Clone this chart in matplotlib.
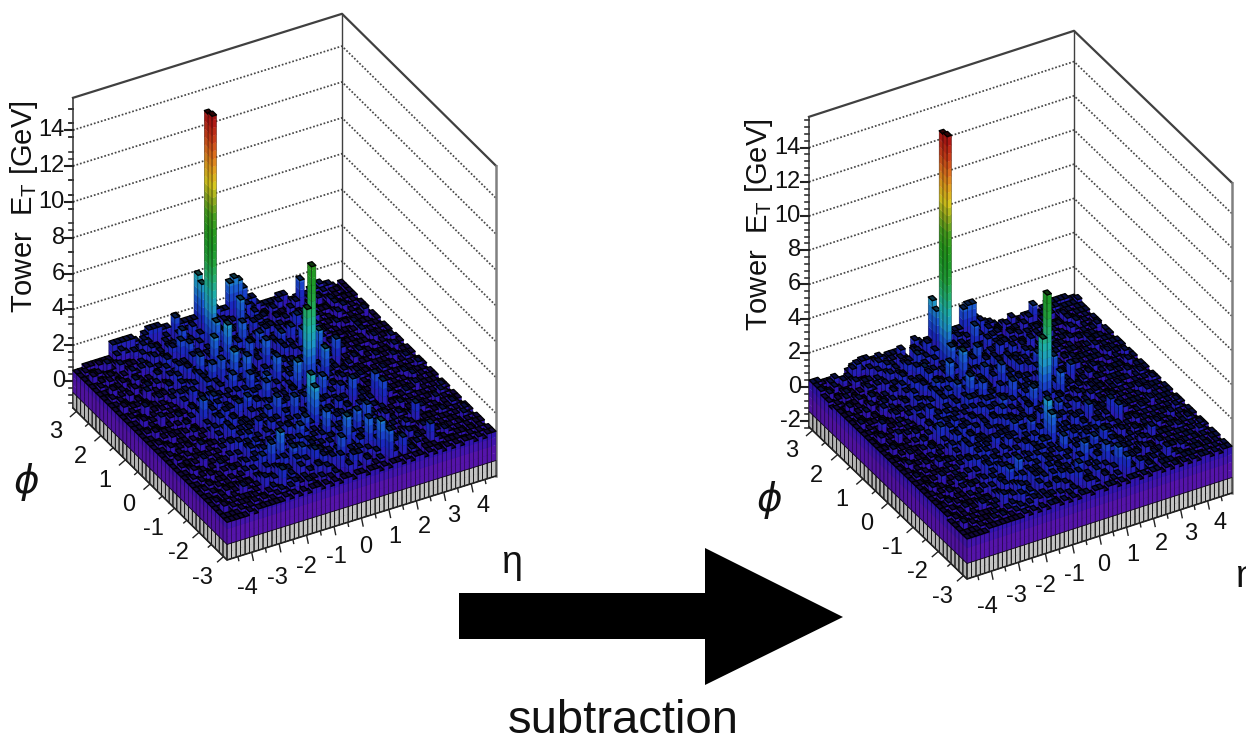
import numpy as np
import matplotlib
matplotlib.use("Agg")
import matplotlib.pyplot as plt
from matplotlib.collections import PolyCollection

plt.rcParams['font.family'] = ['Liberation Sans', 'DejaVu Sans']
plt.rcParams['mathtext.fontset'] = 'custom'
plt.rcParams['mathtext.rm'] = 'Liberation Sans'

# tower grid, eta bins along x and phi bins along y
eta_lo, eta_hi = -4.9, 4.9
phi_lo, phi_hi = -3.14, 3.14
n_eta, n_phi = 60, 40

eta_ticks = [-4, -3, -2, -1, 0, 1, 2, 3, 4]
phi_ticks = [-3, -2, -1, 0, 1, 2, 3]
left_et_ticks = [0, 2, 4, 6, 8, 10, 12, 14]
right_et_ticks = [-2, 0, 2, 4, 6, 8, 10, 12, 14]

# background ET per tower, one digit = 0.2 GeV, first row is the highest phi
left_rows = [
    "3344444488 8887589998 8398888776 6988888899 7666677545 5566766545",
    "3433534467 6346874537 5364773946 8356437985 4563743654 4535645545",
    "3344364534 4738546375 4836954374 6847395463 6374534754 5464535445",
    "3533443645 5374836457 3946375837 4736584937 4365375543 5344654555",
    "3344533454 3657434863 6385947365 3749563846 5736453645 4554635454",
    "3435343365 6348573964 7348356938 5467394763 4635746354 5435464545",
    "3334454354 3746384573 9364738456 7394637483 5463546375 4546535445",
    "3353434634 5463947365 3847593648 3574839465 3746453654 5534454564",
    "3434335445 3748463859 4637584739 6384756394 5364573545 4635545435",
    "3343533464 6357394846 3759463857 4963748365 7354635654 5344655545",
    "3343343635 4463749563 8457396438 5749638457 3645736445 5445634554",
    "3534434354 5739463857 3964738573 6485739463 5736453554 4354645455",
    "3343354463 3648573946 7385946374 8573649385 4756354365 5545354545",
    "3433634454 6357483965 4738596473 3849573648 5463745345 3555464554",
    "3344343535 4837465938 3649573846 7394856374 6354635754 5443545465",
    "3353434454 3759463748 5938473659 4857396485 3647354545 6554354545",
    "3334364545 5463859374 7364859374 6384957346 7536453465 4535554654",
    "3434334364 3748596347 4857396485 3749568374 5836456345 5464545455",
    "3353443545 6374859364 7396485738 6495837469 3745635454 3555464545",
    "3334334464 4857394638 5749638574 3869574836 7463546354 5445535654",
    "3433534545 3649573846 3758493657 4857396485 6374536544 5654354545",
    "3343344364 5738496375 6394857364 9573846957 3645735455 4535545465",
    "3354434545 3649738564 8375946385 3749685734 6473545364 5454654554",
    "3434353454 4857396473 6485739468 5937463859 3746354545 3545464545",
    "3343434635 5739648573 3846957384 6749385746 5836453654 5554545355",
    "3533344454 3649485739 6748395746 3859467384 7463545465 4445635554",
    "3433434535 6473859364 4957384693 7485639574 3647536344 5654354545",
    "3343364454 3857493658 7364859374 4869573846 5736453555 4535545465",
    "3354434345 6394857364 3859467385 7394685739 4653645364 5454554654",
    "3434343654 3748596384 6473958374 3869574683 5746354545 3545464545",
    "3343534545 5639485739 7384695738 4857396485 3647536554 4654545355",
    "3334344364 3748596374 4859637485 7394683759 4653645465 5445535654",
    "3453434545 6385749364 7583964738 3948574638 5746354544 5554654545",
    "3343344454 4759638475 3864957386 4739586374 8364573455 3545545465",
    "3334534545 3648573946 5739485763 9573846957 3645635364 5454554654",
    "3434343654 5746385749 3859637485 3769485739 5463754545 5545354545",
    "3343434445 3857394658 4637958374 6384759364 7354565354 4654545455",
    "3534344454 4565378456 3584763946 5836475486 3565645465 5445545354",
    "3333434545 3456567436 5463565374 6374563575 4565355544 5554454545",
    "3333343444 4445454545 5454545545 5455454554 5455454545 4545545455",
]

# after subtraction, one digit = 0.2 GeV above -0.4 GeV
right_rows = [
    "4433322245 5665544555 4117641334 5566666765 5433333322 3345555544",
    "4324533467 5346763527 4364673945 7345436874 3453642553 4435544445",
    "4234353423 3637435265 3725843263 5736284352 5263423653 4353434344",
    "3422332534 4263725346 2835264726 3625473826 3254264443 4233543444",
    "3233422343 2546323752 5274836254 2638452735 4625342534 3443524343",
    "2324232254 5237462853 6237245827 4356283652 3524635243 4324353434",
    "3223343243 2635273462 8253627345 6283526372 4352435264 3435424334",
    "3242323523 4352836254 2736482537 2463728354 2635342543 4423343453",
    "3323224334 2637352748 3526473628 5273645283 4253462434 3524434324",
    "3232422353 5246283735 2648352746 3852637254 6243524543 4233544434",
    "3232232524 3352638452 7346285327 4638527346 2534625334 4334523443",
    "3423323243 4628352746 2853627462 5374628352 4625342443 3243534344",
    "3232243352 2537462835 6274835263 7462538274 3645243254 4434243434",
    "3322523343 5246372854 3627485362 2738462537 4352634234 2444353443",
    "3233232424 3726354827 2538462735 6283745263 5243524643 4332434354",
    "3242323343 2648352637 4827362548 3746285374 2536243434 5443243434",
    "3223253434 4352748263 6253748263 5273846235 6425342354 3424443543",
    "3323223253 2637485236 3746285374 2638457263 4725345234 4353434344",
    "3242332434 5263748253 6285374627 5384726358 2634524343 2444353434",
    "3223223353 3746283527 4638527463 2758463725 6352435243 4334424543",
    "3322423434 2538462735 2647382546 3746285374 5263425433 4543243434",
    "3232233253 4627385264 5283746253 8462735846 2534624344 3424434354",
    "3243323434 2538627453 7264835274 2638574623 5362434253 4343543443",
    "3323242343 3746285362 5374628357 4826352748 2635243434 2434353434",
    "3232323524 4628537462 2735846273 5638274635 4725342543 4443434244",
    "3422233343 2538374628 5637284635 2748356273 6352434354 3334524443",
    "3322323424 5362748253 3846273582 6374528463 2536425233 4543243434",
    "3232253343 2746382547 6253748263 3758462735 4625342444 3424434354",
    "3243323234 5283746253 2748356274 6283574628 3542534253 4343443543",
    "3323232543 2637485273 5362847263 2758463572 4635243434 2434353434",
    "3232423434 4528374628 6273584627 3746285374 2536425443 3543434244",
    "3223233253 2637485263 3748526374 6283572648 3542534354 4334424543",
    "3342323434 5274638253 6472853627 2837463527 4635243433 4443543434",
    "3232233343 3648527364 2753846275 3628475263 7253462344 2434434354",
    "3223423434 2537462835 4628374652 8462735846 2534524253 4343443543",
    "2323232543 4635274638 2748526374 2658374628 4352643434 4434243434",
    "2232323334 2746283547 3526847263 5273648253 6243454243 3543434344",
    "2423233343 3454267345 2473652835 4725364375 2454534354 4334434243",
    "2222323434 2345456325 4352454263 5263452464 3454244433 4443343434",
    "2222233333 3334343434 4343434434 4344343443 4344343434 3434434344",
]

# towers standing clear of the background: eta bin, phi bin, ET
left_tall = [
    (27, 39, 4.0), (27, 38, 3.7), (25, 34, 14.2), (25, 33, 14.3), (34, 39, 3.0),
    (35, 39, 3.2), (36, 39, 3.0), (37, 39, 2.5), (33, 35, 3.0), (22, 29, 3.0),
    (25, 29, 3.5), (23, 25, 3.0), (25, 24, 2.8), (33, 30, 2.2), (31, 26, 2.8),
    (30, 22, 2.8), (48, 37, 2.5), (43, 32, 2.0), (36, 20, 7.8), (35, 20, 5.5),
    (40, 27, 2.5), (41, 24, 3.0), (39, 20, 3.0), (44, 23, 2.5), (29, 12, 4.0),
    (29, 11, 3.5), (32, 19, 3.0), (18, 28, 2.5), (26, 25, 2.5), (11, 19, 2.5),
    (15, 21, 2.0), (22, 15, 2.0), (17, 6, 3.0), (15, 6, 2.5), (14, 2, 2.0),
    (40, 14, 2.5), (45, 14, 2.4), (45, 12, 2.4), (31, 5, 3.0), (35, 7, 2.6),
    (38, 8, 2.5), (35, 4, 2.8), (36, 2, 3.0), (37, 1, 2.6), (48, 7, 2.0),
    (47, 2, 2.0), (28, 3, 2.5), (29, 8, 2.8), (24, 9, 2.2), (40, 1, 2.0),
    (21, 26, 2.5), (30, 31, 2.8), (26, 20, 2.5), (24, 15, 2.5), (27, 14, 2.5),
    (18, 18, 2.0), (22, 39, 2.05), (20, 35, 2.3), (21, 38, 2.3), (19, 32, 2.3),
    (27, 32, 2.3), (25, 27, 2.5), (25, 19, 2.4), (24, 22, 2.3), (21, 23, 2.3),
    (20, 18, 2.2), (34, 21, 2.4), (45, 24, 2.2), (35, 16, 2.6), (26, 10, 2.3),
    (19, 5, 2.2), (13, 6, 2.0), (21, 5, 2.1), (23, 4, 2.0), (29, 1, 1.9),
    (40, 30, 2.0), (41, 28, 2.0), (37, 29, 2.1), (29, 28, 2.4), (19, 26, 2.4),
    (18, 33, 2.3), (25, 32, 3.0),
]
right_tall = [
    (27, 39, 3.0), (27, 38, 2.6), (25, 34, 14.0), (25, 33, 14.1), (34, 39, 1.9),
    (35, 39, 2.05), (36, 39, 2.05), (37, 39, 1.1), (33, 35, 1.9), (22, 29, 2.0),
    (25, 29, 2.4), (23, 25, 2.0), (25, 24, 1.7), (33, 30, 1.2), (31, 26, 1.8),
    (30, 22, 1.8), (48, 37, 1.4), (43, 32, 1.0), (36, 20, 6.8), (35, 20, 4.3),
    (40, 27, 1.5), (41, 24, 1.9), (39, 20, 2.0), (44, 23, 1.4), (29, 12, 3.0),
    (29, 11, 2.4), (32, 19, 1.9), (18, 28, 1.4), (26, 25, 1.5), (11, 19, 1.4),
    (15, 21, 1.0), (22, 15, 1.0), (17, 6, 1.9), (15, 6, 1.5), (14, 2, 1.0),
    (40, 14, 1.4), (45, 14, 1.3), (45, 12, 1.4), (31, 5, 1.9), (35, 7, 1.5),
    (38, 8, 1.4), (35, 4, 1.7), (36, 2, 1.9), (37, 1, 1.5), (48, 7, 1.0),
    (47, 2, 1.0), (28, 3, 1.4), (29, 8, 1.8), (24, 9, 1.2), (40, 1, 1.0),
    (21, 26, 1.5), (30, 31, 1.8), (26, 20, 1.5), (24, 15, 1.4), (27, 14, 1.5),
    (18, 18, 1.0), (20, 35, 1.3), (19, 32, 1.3), (27, 32, 1.3), (25, 27, 1.5),
    (25, 19, 1.3), (24, 22, 1.2), (21, 23, 1.3), (20, 18, 1.1), (34, 21, 1.4),
    (45, 24, 1.1), (35, 16, 1.5), (26, 10, 1.3), (19, 5, 1.2), (13, 6, 0.9),
    (21, 5, 1.0), (23, 4, 1.0), (29, 1, 0.8), (40, 30, 1.0), (41, 28, 1.0),
    (37, 29, 1.1), (29, 28, 1.4), (19, 26, 1.3), (18, 33, 1.2), (25, 32, 2.0),
]

# lego colours, one per contour level
level_colors = np.array([
    (195, 195, 195), (85, 20, 170), (48, 20, 175), (25, 40, 190), (25, 90, 210),
    (30, 150, 200), (30, 175, 170), (35, 175, 110), (35, 165, 60), (30, 155, 40),
    (40, 155, 30), (70, 160, 30), (140, 170, 30), (215, 200, 30), (225, 160, 30),
    (220, 110, 30), (200, 60, 25), (175, 25, 20), (140, 10, 15), (110, 0, 10),
]) / 255.0

# arrow outline and caption
arrow_x = [459, 705, 705, 843, 705, 705, 459]
arrow_y = [593, 593, 548, 617, 685, 639, 639]

left_panel = dict(front=(227, 560), left=(73, 408), right=(496, 476), zmin=-1.5, zmax=15.8, scale=17.93,
                  et_ticks=left_et_ticks, title_x=24, title_y=207, phi_lab=(27, 482), eta_lab=(511, 563))
right_panel = dict(front=(967, 579), left=(809, 427), right=(1232, 493), zmin=-2.34, zmax=15.8, scale=17.1,
                   et_ticks=right_et_ticks, title_x=759, title_y=225, phi_lab=(770, 500), eta_lab=(1245, 577))


def project(p, eta, phi, z):
    u = (eta - eta_lo) / (eta_hi - eta_lo)
    v = (phi - phi_lo) / (phi_hi - phi_lo)
    x = p['front'][0] + u * (p['right'][0] - p['front'][0]) + v * (p['left'][0] - p['front'][0])
    y = p['front'][1] + u * (p['right'][1] - p['front'][1]) + v * (p['left'][1] - p['front'][1])
    return x, y - (z - p['zmin']) * p['scale']


def heights(rows, tall, base):
    grid = np.zeros((n_phi, n_eta))
    for r, row in enumerate(rows):
        digits = row.replace(" ", "")
        for i in range(n_eta):
            grid[n_phi - 1 - r, i] = base + 0.2 * int(digits[i])
    for i, j, et in tall:
        grid[j, i] = et
    return grid


def draw_towers(ax, p, grid):
    d_eta = (eta_hi - eta_lo) / n_eta
    d_phi = (phi_hi - phi_lo) / n_phi
    dz = (p['zmax'] - p['zmin']) / 20.0
    polys, faces, edges, widths = [], [], [], []
    none = (0, 0, 0, 0)

    def add(corners, face, edge, width):
        polys.append([project(p, e, f, z) for e, f, z in corners])
        faces.append(face)
        edges.append(edge)
        widths.append(width)

    # painted from the back corner to the front corner
    for i in range(n_eta - 1, -1, -1):
        for j in range(n_phi - 1, -1, -1):
            e0 = eta_lo + i * d_eta
            e1 = e0 + d_eta
            f0 = phi_lo + j * d_phi
            f1 = f0 + d_phi
            top = grid[j, i]
            n_top = min(int((top - p['zmin']) / dz), 19)
            for n in range(n_top + 1):
                # each level in two halves so the colour runs on more softly
                for half in [0, 1]:
                    z0 = p['zmin'] + (n + half / 2.0) * dz
                    if z0 >= top:
                        continue
                    z1 = min(z0 + dz / 2.0, top)
                    col = level_colors[n]
                    if half == 0 and n >= 2:
                        col = (level_colors[n - 1] + level_colors[n]) / 2.0
                    c_left = tuple(col * 0.92) + (1,)
                    c_right = tuple(col) + (1,)
                    add([(e0, f0, z0), (e0, f1, z0), (e0, f1, z1), (e0, f0, z1)], c_left, c_left, 0.2)
                    add([(e0, f0, z0), (e1, f0, z0), (e1, f0, z1), (e0, f0, z1)], c_right, c_right, 0.2)
            # outlines of the two side faces and of the top
            line = (0, 0, 0, 0.45)
            add([(e0, f0, p['zmin']), (e0, f1, p['zmin']), (e0, f1, top), (e0, f0, top)], none, line, 0.45)
            add([(e0, f0, p['zmin']), (e1, f0, p['zmin']), (e1, f0, top), (e0, f0, top)], none, line, 0.45)
            # the grey foot has harder black stripes
            z_foot = p['zmin'] + dz
            stripe = (0, 0, 0, 0.85)
            add([(e0, f0, p['zmin']), (e0, f1, p['zmin']), (e0, f1, z_foot), (e0, f0, z_foot)], none, stripe, 0.6)
            add([(e0, f0, p['zmin']), (e1, f0, p['zmin']), (e1, f0, z_foot), (e0, f0, z_foot)], none, stripe, 0.6)
            c_top = tuple(level_colors[n_top] * 0.35) + (1,)
            add([(e0, f0, top), (e1, f0, top), (e1, f1, top), (e0, f1, top)], c_top, (0, 0, 0, 1), 0.95)

    ax.add_collection(PolyCollection(polys, facecolors=faces, edgecolors=edges, linewidths=widths, zorder=3))


def draw_box(ax, p):
    zmin, zmax = p['zmin'], p['zmax']
    # dotted grid on the two back walls
    for z in p['et_ticks']:
        a = project(p, eta_lo, phi_hi, z)
        b = project(p, eta_hi, phi_hi, z)
        c = project(p, eta_hi, phi_lo, z)
        ax.plot([a[0], b[0], c[0]], [a[1], b[1], c[1]], color='#484848', lw=1.25, ls=(0, (1, 1.1)), zorder=1)

    # frame
    a = project(p, eta_lo, phi_hi, zmax)
    b = project(p, eta_hi, phi_hi, zmax)
    c = project(p, eta_hi, phi_lo, zmax)
    ax.plot([a[0], b[0], c[0]], [a[1], b[1], c[1]], color='#404040', lw=1.6, zorder=2)
    for eta, phi, col, lw in [(eta_lo, phi_hi, '#404040', 1.2), (eta_hi, phi_hi, '#404040', 1.0), (eta_hi, phi_lo, '#808080', 1.8)]:
        s = project(p, eta, phi, zmin)
        t = project(p, eta, phi, zmax)
        ax.plot([s[0], t[0]], [s[1], t[1]], color=col, lw=lw, zorder=2)
    e = project(p, eta_lo, phi_hi, zmin)
    f = project(p, eta_lo, phi_lo, zmin)
    g = project(p, eta_hi, phi_lo, zmin)
    ax.plot([e[0], f[0], g[0]], [e[1], f[1], g[1]], color='#222222', lw=1.2, zorder=4)

    # ET axis
    x0, _ = project(p, eta_lo, phi_hi, 0)
    for z in np.arange(zmin + 0.1, zmax, 0.4):
        z = round(z / 0.4) * 0.4
        _, y = project(p, eta_lo, phi_hi, z)
        ax.plot([x0 - 4, x0], [y, y], color='#333333', lw=1.2, zorder=2)
    for z in p['et_ticks']:
        _, y = project(p, eta_lo, phi_hi, z)
        ax.plot([x0 - 8, x0], [y, y], color='#222222', lw=1.5, zorder=2)
        ax.text(x0 - 8, y, str(z), ha='right', va='center', fontsize=17, color='#111111')

    # phi axis
    for phi in np.arange(-3, 3.01, 0.5):
        x, y = project(p, eta_lo, phi, zmin)
        ln = 8 if phi == int(phi) else 4
        ax.plot([x, x - ln * 0.75], [y, y + ln * 0.65], color='#222222', lw=1.0, zorder=2)
    for phi in phi_ticks:
        x, y = project(p, eta_lo, phi, zmin)
        ax.text(x - 21, y + 21, str(phi), ha='center', va='center', fontsize=17, color='#111111')

    # eta axis
    for eta in np.arange(-4.5, 4.51, 0.5):
        x, y = project(p, eta, phi_lo, zmin)
        ln = 8 if eta == int(eta) else 4
        ax.plot([x, x + ln * 0.2], [y, y + ln], color='#222222', lw=1.0, zorder=2)
    for eta in eta_ticks:
        x, y = project(p, eta, phi_lo, zmin)
        ax.text(x + 4 + 2 * eta, y + 29 - 1.6 * eta, str(eta), ha='center', va='center', fontsize=17, color='#111111')

    # axis titles
    ax.text(p['title_x'], p['title_y'], r'Tower  E$_{\mathrm{T}}$ [GeV]', rotation=90, ha='center', va='center',
            fontsize=21, color='#111111')
    ax.text(p['phi_lab'][0], p['phi_lab'][1], '\u03d5', ha='center', va='center', fontsize=28, style='italic',
            family=['DejaVu Sans'], color='#111111')
    ax.text(p['eta_lab'][0], p['eta_lab'][1], '\u03b7', ha='center', va='center', fontsize=27, color='#111111')


fig = plt.figure(figsize=(12.46, 7.38), dpi=100)
ax = fig.add_axes([0, 0, 1, 1])
ax.set_xlim(0, 1246)
ax.set_ylim(738, 0)
ax.axis('off')

draw_box(ax, left_panel)
draw_towers(ax, left_panel, heights(left_rows, left_tall, 0.0))
draw_box(ax, right_panel)
draw_towers(ax, right_panel, heights(right_rows, right_tall, -0.4))

ax.fill(arrow_x, arrow_y, color='black', lw=0, zorder=5)
ax.text(623, 733, 'subtraction', ha='center', va='baseline', fontsize=34, color='#111111')

fig.savefig('out.png', dpi=100)
